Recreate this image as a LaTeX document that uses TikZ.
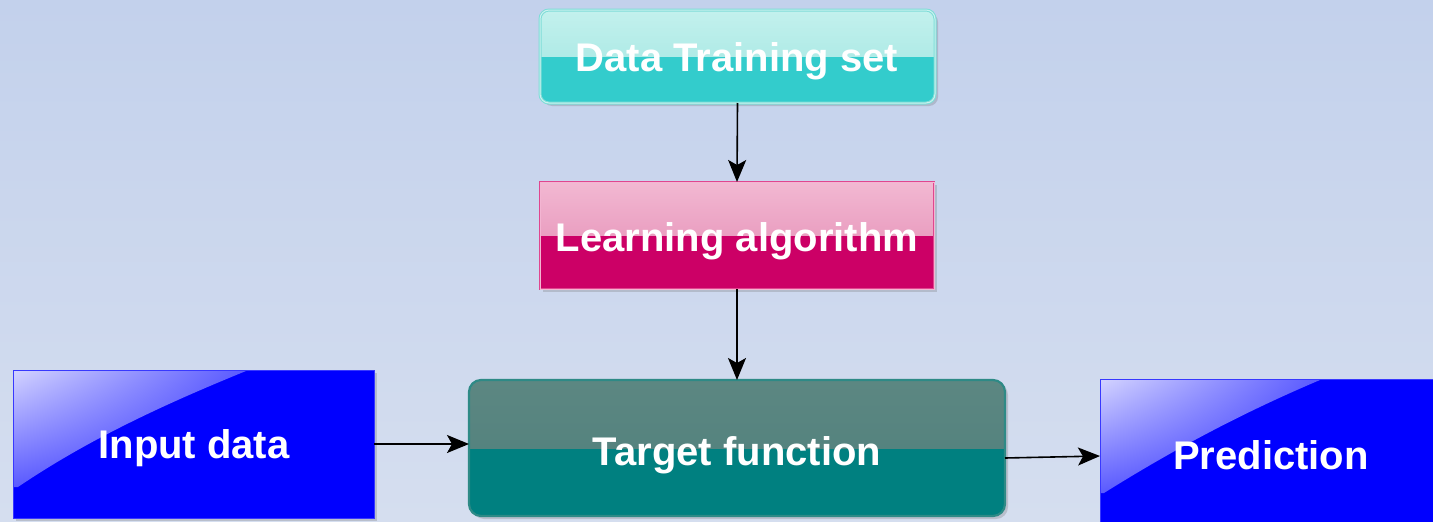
\documentclass[tikz,border=0pt]{standalone}
\usepackage{fontspec}
\setmainfont{Liberation Sans}
\usetikzlibrary{arrows.meta,shadows,shadings}
\definecolor{bgtop}{HTML}{C3D1EC}
\definecolor{bgbot}{HTML}{D5DEEF}
\definecolor{cyantop}{HTML}{C3F1ED}
\definecolor{cyanmid}{HTML}{9CE4E0}
\definecolor{cyanbot}{HTML}{33CCCC}
\definecolor{cyanedge}{HTML}{7EDDD8}
\definecolor{pinktop}{HTML}{F2B8D2}
\definecolor{pinkmid}{HTML}{E286B0}
\definecolor{pinkbot}{HTML}{CC0066}
\definecolor{pinkedge}{HTML}{E0468F}
\definecolor{tealtop}{HTML}{5C8782}
\definecolor{tealmid}{HTML}{4E7F7B}
\definecolor{tealbot}{HTML}{008080}
\definecolor{tealedge}{HTML}{2E8A86}
\definecolor{bluebox}{HTML}{0000FF}
\definecolor{blueedge}{HTML}{3838FF}
\definecolor{glossa}{HTML}{D2D2FF}
\definecolor{glossb}{HTML}{5A5AFF}
\definecolor{glossc}{HTML}{3030FF}
\tikzset{
  boxtext/.style={font=\fontsize{40}{45}\selectfont\bfseries, text=white, inner sep=0pt, outer sep=0pt},
  labeltext/.style={boxtext, text height=28.6pt, text depth=0pt},
  shadowed/.style={drop shadow={shadow xshift=3pt, shadow yshift=-3pt, opacity=0.25, fill=black!60}},
  twotone/.style n args={3}{fill=#3, path picture={
      \fill[sharp corners, top color=#1, bottom color=#2] (path picture bounding box.north west) rectangle (path picture bounding box.east);}},
  cyanbox/.style={shadowed, rounded corners=9pt, twotone={cyantop}{cyanmid}{cyanbot}, draw=cyanedge, line width=1pt, double=cyanedge!40!white, double distance=1pt},
  pinkbox/.style={shadowed, twotone={pinktop}{pinkmid}{pinkbot}, draw=pinkedge, line width=1pt, double=pinkedge!40!white, double distance=0.8pt},
  tealbox/.style={shadowed, rounded corners=12pt, twotone={tealtop}{tealmid}{tealbot}, draw=tealedge, line width=2.2pt},
  bluebox/.style={shadowed, fill=bluebox, draw=blueedge, line width=1pt},
  conn/.style={draw=black, line width=1.6pt, -{Stealth[length=22pt,width=18pt,inset=5pt]}},
}
\begin{document}
\begin{tikzpicture}[x=1pt,y=-1pt]
\useasboundingbox (0,0) rectangle (1433,522);
\clip (0,0) rectangle (1433,522);
\shade[top color=bgtop, bottom color=bgbot] (0,0) rectangle (1433,522);

\node[cyanbox, minimum width=395pt, minimum height=93pt, inner sep=0pt, outer sep=0pt] (dts) at (737.5,56.5) {};
\node[pinkbox, minimum width=394pt, minimum height=107pt, inner sep=0pt, outer sep=0pt] (la) at (737,235.5) {};
\node[tealbox, minimum width=536pt, minimum height=136pt, inner sep=0pt, outer sep=0pt] (tgt) at (737,448) {};
\node[bluebox, minimum width=361pt, minimum height=148pt, inner sep=0pt, outer sep=0pt] (in) at (193.5,444) {};
\node[bluebox, minimum width=342pt, minimum height=146pt, inner sep=0pt, outer sep=0pt] (pred) at (1271,452) {};

% gloss on blue boxes
\shade[upper left=glossa, upper right=glossb, lower left=glossb, lower right=glossc]
  (14,371) -- (246,371) .. controls (150,410) and (80,445) .. (18,487) -- (14,487) -- cycle;
\shade[upper left=glossa, upper right=glossb, lower left=glossb, lower right=glossc]
  (1101,380) -- (1320,380) .. controls (1230,418) and (1160,458) .. (1104,493) -- (1101,493) -- cycle;

\node[labeltext] (dtslabel) at (737,57) {Data Training set};
\node[labeltext] (lalabel) at (737,237) {Learning algorithm};
\node[labeltext] (tgtlabel) at (737,451) {Target function};
\node[labeltext] (inlabel) at (194,444) {Input data};
\node[labeltext] (predlabel) at (1271,455) {Prediction};

\draw[conn] (dts.south) -- (la.north);
\draw[conn] (la.south) -- (tgt.north);
\draw[conn] (in.east) -- (in.east -| tgt.west);
\draw[conn] ([yshift=-10pt]tgt.east) -- ([yshift=-4pt]pred.west);
\end{tikzpicture}
\end{document}
